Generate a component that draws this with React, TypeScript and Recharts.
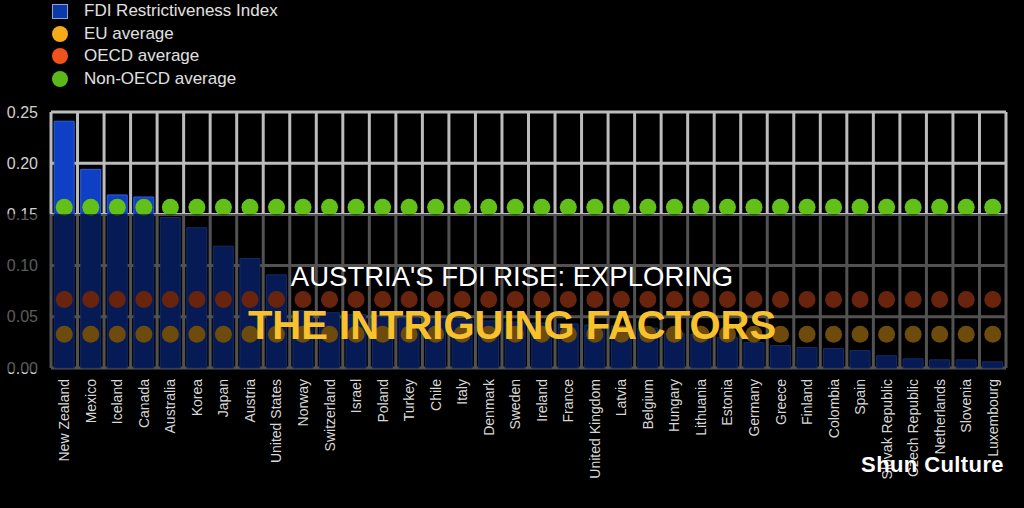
import { Bar, CartesianGrid, ComposedChart, Line, XAxis, YAxis } from "recharts";

const countries = [
  "New Zealand", "Mexico", "Iceland", "Canada", "Australia", "Korea", "Japan", "Austria",
  "United States", "Norway", "Switzerland", "Israel", "Poland", "Turkey", "Chile", "Italy",
  "Denmark", "Sweden", "Ireland", "France", "United Kingdom", "Latvia", "Belgium", "Hungary",
  "Lithuania", "Estonia", "Germany", "Greece", "Finland", "Colombia", "Spain", "Slovak Republic",
  "Czech Republic", "Netherlands", "Slovenia", "Luxembourg"
];

const fdiIndex = [
  0.241, 0.194, 0.169, 0.167, 0.147, 0.137, 0.119, 0.107, 0.091, 0.056, 0.054, 0.052,
  0.05, 0.049, 0.048, 0.047, 0.046, 0.045, 0.044, 0.043, 0.042, 0.041, 0.039, 0.034,
  0.033, 0.03, 0.025, 0.022, 0.02, 0.019, 0.017, 0.012, 0.009, 0.008, 0.008, 0.006
];

const euAverage = countries.map(() => 0.033);
const oecdAverage = countries.map(() => 0.067);
const nonOecdAverage = countries.map(() => 0.157);

const yTicks = [0, 0.05, 0.1, 0.15, 0.2, 0.25];

const legendItems = [
  { label: "FDI Restrictiveness Index", color: "#0b3aa8", square: true },
  { label: "EU average", color: "#f5aa1c" },
  { label: "OECD average", color: "#f0521e" },
  { label: "Non-OECD average", color: "#5cb816" }
];

const data = countries.map((country, i) => ({
  country,
  index: fdiIndex[i],
  eu: euAverage[i],
  oecd: oecdAverage[i],
  nonOecd: nonOecdAverage[i]
}));

function CountryTick({ x, y, payload }: any) {
  return (
    <text
      x={x}
      y={y + 3}
      transform={`rotate(-90, ${x}, ${y + 3})`}
      textAnchor="end"
      dominantBaseline="central"
      fill="#d8d8d8"
      fontSize={14}
      fontFamily="Liberation Sans, Arial, sans-serif"
    >
      {payload.value}
    </text>
  );
}

function Legend() {
  return (
    <div style={{ position: "absolute", left: 52, top: 0 }}>
      {legendItems.map((item) => (
        <div key={item.label} style={{ display: "flex", alignItems: "center", height: 22.5 }}>
          <span
            style={{
              width: 16,
              height: item.square ? 15 : 16,
              borderRadius: item.square ? 0 : 8,
              background: item.color,
              boxSizing: "border-box",
              border: item.square ? "1px solid #8fa2d0" : "none"
            }}
          />
          <span style={{ marginLeft: 16, color: "#e0e0e0", fontSize: 17 }}>{item.label}</span>
        </div>
      ))}
    </div>
  );
}

export default function App() {
  return (
    <div
      style={{
        position: "absolute",
        left: 0,
        top: 0,
        width: 1024,
        height: 508,
        background: "#000",
        overflow: "hidden",
        fontFamily: "Liberation Sans, Arial, sans-serif"
      }}
    >
      <ComposedChart
        width={1024}
        height={508}
        data={data}
        margin={{ top: 112, right: 18, bottom: 0, left: 0 }}
        barCategoryGap="12%"
      >
        <CartesianGrid
          stroke="#bcbcbc"
          strokeWidth={3}
          verticalCoordinatesGenerator={({ offset }: any) =>
            countries.map((_, i) => offset.left + (i * offset.width) / countries.length).concat(offset.left + offset.width)
          }
        />
        <XAxis
          dataKey="country"
          interval={0}
          height={140}
          axisLine={false}
          tickLine={false}
          tick={<CountryTick />}
        />
        <YAxis
          width={51}
          domain={[0, 0.25]}
          ticks={yTicks}
          axisLine={false}
          tickLine={false}
          tickMargin={7}
          tickFormatter={(v: number) => v.toFixed(2)}
          tick={{ fill: "#d0d0d0", fontSize: 16 }}
        />
        <Bar dataKey="index" fill="#0f3fc4" stroke="#3461d8" strokeWidth={1} isAnimationActive={false} />
        {[
          { key: "eu", color: "#f5aa1c" },
          { key: "oecd", color: "#f0521e" },
          { key: "nonOecd", color: "#62c018" }
        ].map((s) => (
          <Line
            key={s.key}
            dataKey={s.key}
            stroke="none"
            dot={{ r: 8.5, fill: s.color, stroke: "none" }}
            activeDot={false}
            isAnimationActive={false}
          />
        ))}
      </ComposedChart>
      <Legend />
      <div
        style={{
          position: "absolute",
          left: 0,
          top: 214,
          width: 1024,
          height: 158,
          background: "rgba(0,0,0,0.56)"
        }}
      />
      <div
        style={{
          position: "absolute",
          left: 0,
          width: 1024,
          top: 262,
          textAlign: "center",
          color: "#fff",
          fontSize: 27.5,
          lineHeight: "30px"
        }}
      >
        AUSTRIA'S FDI RISE: EXPLORING
      </div>
      <div
        style={{
          position: "absolute",
          left: 0,
          width: 1024,
          top: 303,
          textAlign: "center",
          color: "#f8c22c",
          fontSize: 40,
          fontWeight: 700,
          lineHeight: "44px"
        }}
      >
        THE INTRIGUING FACTORS
      </div>
      <div
        style={{
          position: "absolute",
          right: 20,
          top: 452,
          color: "#fff",
          fontSize: 22,
          fontWeight: 700,
          letterSpacing: 0.4
        }}
      >
        Shun Culture
      </div>
    </div>
  );
}
